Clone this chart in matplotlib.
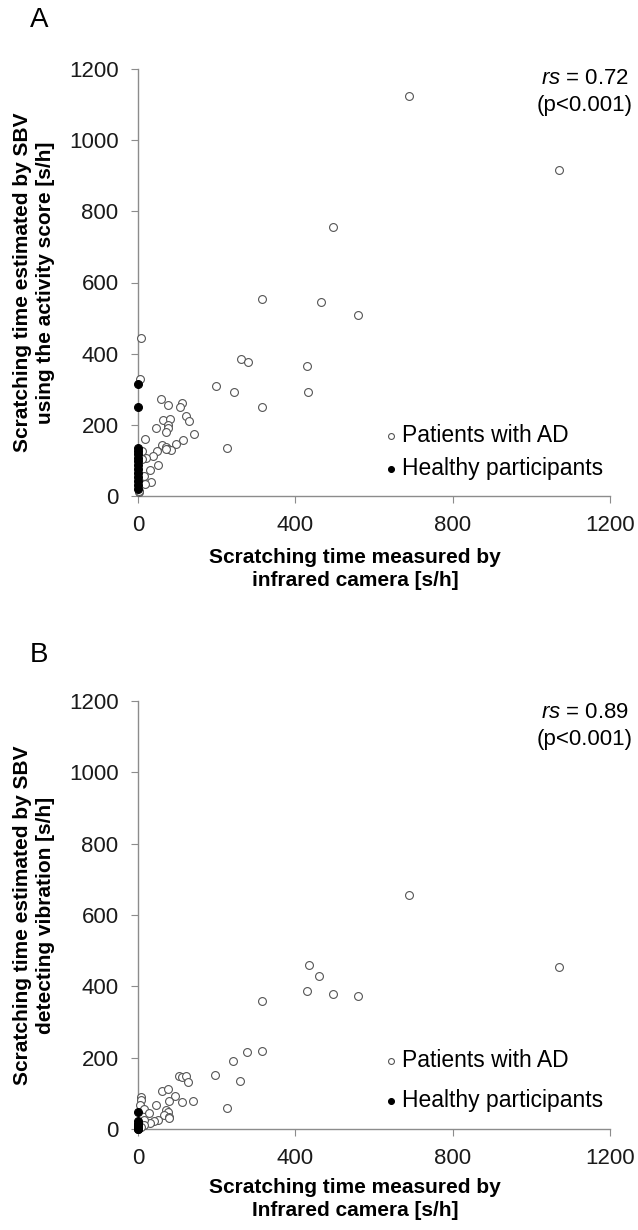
import matplotlib
matplotlib.use('Agg')
import matplotlib.pyplot as plt

plt.rcParams['font.family'] = ['Liberation Sans', 'DejaVu Sans']
plt.rcParams['mathtext.fontset'] = 'custom'
plt.rcParams['mathtext.rm'] = 'Liberation Sans'
plt.rcParams['mathtext.it'] = 'Liberation Sans:italic'

# Panel A: activity score vs infrared camera
a_ad_x = [690, 1070, 495, 315, 465, 560, 262, 280, 198, 430, 433, 243, 316, 227,
          7, 5, 58, 77, 113, 108, 122, 130, 64, 81, 45, 77, 75, 71, 142, 18, 114,
          96, 60, 71, 77, 84, 72, 49, 39, 20, 9, 9, 50, 31, 15, 32, 17, 2, 3]
a_ad_y = [1125, 915, 755, 555, 545, 510, 386, 376, 308, 366, 293, 291, 250, 136,
          445, 330, 274, 256, 260, 250, 225, 210, 213, 216, 192, 199, 190, 180, 173, 161, 157,
          147, 143, 138, 131, 129, 132, 127, 113, 106, 127, 104, 86, 73, 56, 38, 35, 10, 14]
a_hp_x = [0] * 14
a_hp_y = [315, 250, 136, 127, 118, 108, 97, 86, 75, 64, 53, 42, 30, 20]

# Panel B: vibration vs infrared camera
b_ad_x = [690, 1070, 435, 430, 460, 495, 560, 316, 277, 314, 242, 259, 226, 197,
          105, 111, 121, 128, 60, 75, 94, 80, 113, 141, 46, 7, 7, 4, 16, 29, 71, 75,
          67, 78, 80, 52, 41, 31, 16, 16, 7]
b_ad_y = [655, 455, 460, 388, 430, 378, 373, 359, 217, 220, 191, 135, 58, 151,
          150, 147, 148, 131, 107, 111, 93, 79, 75, 78, 66, 90, 80, 67, 55, 46, 53, 49,
          39, 35, 31, 25, 23, 16, 25, 11, 7]
b_hp_x = [0] * 12
b_hp_y = [48, 22, 14, 10, 7, 5, 3, 2, 1, 0, 12, 4]

x_ticks = [0, 400, 800, 1200]
y_ticks = [0, 200, 400, 600, 800, 1000, 1200]

W, H = 638, 1230
fig = plt.figure(figsize=(W / 100, H / 100), dpi=100)

panels = [
    dict(letter='A', top=69, bottom=496, ad=(a_ad_x, a_ad_y), hp=(a_hp_x, a_hp_y),
         rs='0.72', ylabel='Scratching time estimated by SBV\nusing the activity score [s/h]',
         xlabel='Scratching time measured by\ninfrared camera [s/h]',
         letter_y=20, ann_y=(78, 105), xlab_y=569, leg_anchor=(1.005, 0.017), leg_space=0.4),
    dict(letter='B', top=701, bottom=1129, ad=(b_ad_x, b_ad_y), hp=(b_hp_x, b_hp_y),
         rs='0.89', ylabel='Scratching time estimated by SBV\ndetecting vibration [s/h]',
         xlabel='Scratching time measured by\nInfrared camera [s/h]',
         letter_y=655, ann_y=(712, 740), xlab_y=1199, leg_anchor=(1.005, 0.018), leg_space=0.75),
]

left, right = 138, 610
for p in panels:
    ax = fig.add_axes([left / W, 1 - p['bottom'] / H, (right - left) / W,
                       (p['bottom'] - p['top']) / H])
    ax.scatter(p['ad'][0], p['ad'][1], s=32, facecolors='white', edgecolors='#555555',
               linewidths=0.8, clip_on=False, zorder=3, label='Patients with AD')
    ax.scatter(p['hp'][0], p['hp'][1], s=32, facecolors='black', edgecolors='black',
               linewidths=0.8, clip_on=False, zorder=4, label='Healthy participants')
    ax.set_xlim(0, 1200)
    ax.set_ylim(0, 1200)
    ax.set_xticks(x_ticks)
    ax.set_yticks(y_ticks)
    for s in ['top', 'right']:
        ax.spines[s].set_visible(False)
    for s in ['left', 'bottom']:
        ax.spines[s].set_color('#8c8c8c')
        ax.spines[s].set_linewidth(1.0)
    ax.tick_params(direction='out', length=5, color='#8c8c8c', labelsize=16,
                   labelcolor='#1a1a1a', pad=9)
    leg = ax.legend(loc='lower right', bbox_to_anchor=p['leg_anchor'], frameon=False,
                    fontsize=16.5, handletextpad=0.1, labelspacing=p['leg_space'],
                    handlelength=0.8, borderaxespad=0, markerscale=0.75)
    fig.text(30 / W, 1 - p['letter_y'] / H, p['letter'], fontsize=20, ha='left', va='center')
    fig.text(585 / W, 1 - p['ann_y'][0] / H, r'$\mathit{rs}$ = ' + p['rs'], fontsize=16,
             ha='center', va='center')
    fig.text(585 / W, 1 - p['ann_y'][1] / H, '(p<0.001)', fontsize=16, ha='center', va='center')
    fig.text(34 / W, 1 - (p['top'] + p['bottom']) / 2 / H, p['ylabel'], fontsize=15,
             fontweight='bold', rotation=90, ha='center', va='center', linespacing=1.25)
    fig.text(355 / W, 1 - p['xlab_y'] / H, p['xlabel'], fontsize=15, fontweight='bold',
             ha='center', va='center', linespacing=1.25)

fig.savefig('out.png', dpi=100)
